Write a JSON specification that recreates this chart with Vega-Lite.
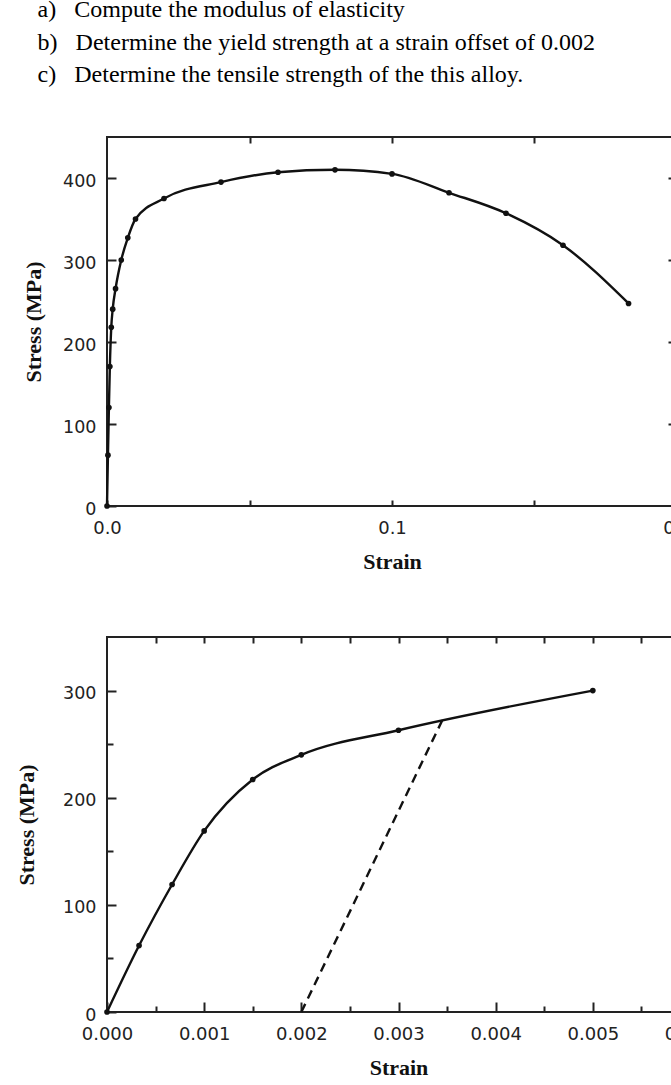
{
  "$schema": "https://vega.github.io/schema/vega-lite/v6.json",
  "background": "white",
  "padding": {"left": 14, "top": -2, "right": 0, "bottom": 0},
  "title": {
    "text": [
      "a)\u00a0\u00a0\u00a0Compute the modulus of elasticity",
      "b)\u00a0\u00a0\u00a0Determine the yield strength at a strain offset of 0.002",
      "c)\u00a0\u00a0\u00a0Determine the tensile strength of the this alloy."
    ],
    "anchor": "start",
    "frame": "bounds",
    "dx": 23,
    "offset": 48,
    "font": "Liberation Serif",
    "fontSize": 24,
    "fontWeight": "normal",
    "color": "#000",
    "lineHeight": 32.3,
    "baseline": "top"
  },
  "spacing": 62,
  "datasets": {
    "curve": [
      {"strain": 0, "stress": 0},
      {"strain": 0.00033, "stress": 62},
      {"strain": 0.00067, "stress": 120},
      {"strain": 0.001, "stress": 170},
      {"strain": 0.0015, "stress": 218},
      {"strain": 0.002, "stress": 240},
      {"strain": 0.003, "stress": 265},
      {"strain": 0.005, "stress": 300},
      {"strain": 0.0073, "stress": 327},
      {"strain": 0.01, "stress": 350},
      {"strain": 0.02, "stress": 375},
      {"strain": 0.04, "stress": 395},
      {"strain": 0.06, "stress": 407},
      {"strain": 0.08, "stress": 410},
      {"strain": 0.1, "stress": 405},
      {"strain": 0.12, "stress": 382},
      {"strain": 0.14, "stress": 357},
      {"strain": 0.16, "stress": 318},
      {"strain": 0.183, "stress": 247}
    ],
    "detail": [
      {"strain": 0, "stress": 0},
      {"strain": 0.00033, "stress": 62},
      {"strain": 0.00067, "stress": 119},
      {"strain": 0.001, "stress": 169},
      {"strain": 0.0015, "stress": 217},
      {"strain": 0.002, "stress": 240},
      {"strain": 0.003, "stress": 263},
      {"strain": 0.005, "stress": 300}
    ],
    "offsetLine": [
      {"strain": 0.002, "stress": 0},
      {"strain": 0.00346, "stress": 274}
    ]
  },
  "vconcat": [
    {
      "width": 570,
      "height": 369,
      "layer": [
        {
          "data": {"name": "curve"},
          "mark": {"type": "line", "color": "#111", "strokeWidth": 2.4, "interpolate": "monotone"},
          "encoding": {
            "x": {
              "field": "strain", "type": "quantitative",
              "scale": {"domain": [0, 0.2], "nice": false, "zero": false},
              "axis": {
                "orient": "bottom", "values": [0, 0.05, 0.1, 0.15, 0.2],
                "labelExpr": "round(datum.value*20) % 2 == 1 ? '' : format(datum.value, '.1f')",
                "offset": -6, "tickSize": 6, "labelPadding": 13,
                "title": "Strain", "titlePadding": 14
              }
            },
            "y": {
              "field": "stress", "type": "quantitative",
              "scale": {"domain": [0, 450], "nice": false, "zero": false},
              "axis": {
                "orient": "left", "values": [0, 100, 200, 300, 400],
                "offset": -9, "tickSize": 9, "labelPadding": 11, "labelOffset": 3,
                "labelFontSize": 17.5,
                "title": "Stress (MPa)", "titlePadding": 17
              }
            }
          }
        },
        {
          "data": {"name": "curve"},
          "mark": {"type": "point", "filled": true, "color": "#111", "size": 32, "opacity": 1},
          "encoding": {
            "x": {
              "field": "strain", "type": "quantitative",
              "scale": {"domain": [0, 0.2], "nice": false, "zero": false},
              "axis": {"orient": "top", "values": [0.05, 0.1, 0.15], "tickSize": -6, "labels": false, "title": null}
            },
            "y": {
              "field": "stress", "type": "quantitative",
              "scale": {"domain": [0, 450], "nice": false, "zero": false},
              "axis": {"orient": "right", "values": [100, 200, 300, 400], "tickSize": -9, "labels": false, "title": null}
            }
          }
        }
      ],
      "resolve": {"axis": {"x": "independent", "y": "independent"}}
    },
    {
      "width": 583,
      "height": 375,
      "layer": [
        {
          "data": {"name": "detail"},
          "mark": {"type": "line", "color": "#111", "strokeWidth": 2.4, "interpolate": "monotone"},
          "encoding": {
            "x": {
              "field": "strain", "type": "quantitative",
              "scale": {"domain": [0, 0.006], "nice": false, "zero": false},
              "axis": {
                "orient": "bottom", "values": [0, 0.001, 0.002, 0.003, 0.004, 0.005, 0.006],
                "format": ".3f", "offset": -10, "tickSize": 10, "labelPadding": 13,
                "title": "Strain", "titlePadding": 14
              }
            },
            "y": {
              "field": "stress", "type": "quantitative",
              "scale": {"domain": [0, 350], "nice": false, "zero": false},
              "axis": {
                "orient": "left", "values": [0, 100, 200, 300],
                "offset": -9, "tickSize": 9, "labelPadding": 11, "labelOffset": 3,
                "labelFontSize": 17.5,
                "title": "Stress (MPa)", "titlePadding": 24
              }
            }
          }
        },
        {
          "data": {"name": "detail"},
          "mark": {"type": "point", "filled": true, "color": "#111", "size": 32, "opacity": 1},
          "encoding": {
            "x": {
              "field": "strain", "type": "quantitative",
              "scale": {"domain": [0, 0.006], "nice": false, "zero": false},
              "axis": {"orient": "top", "values": [0.0005, 0.001, 0.0015, 0.002, 0.0025, 0.003, 0.0035, 0.004, 0.0045, 0.005, 0.0055], "tickSize": -6, "labels": false, "title": null}
            },
            "y": {
              "field": "stress", "type": "quantitative",
              "scale": {"domain": [0, 350], "nice": false, "zero": false},
              "axis": {"orient": "right", "values": [50, 100, 150, 200, 250, 300], "tickSize": -8, "labels": false, "title": null}
            }
          }
        },
        {
          "data": {"name": "offsetLine"},
          "mark": {"type": "line", "color": "#111", "strokeWidth": 2.4, "strokeDash": [9, 6]},
          "encoding": {
            "x": {
              "field": "strain", "type": "quantitative",
              "scale": {"domain": [0, 0.006], "nice": false, "zero": false},
              "axis": {"orient": "bottom", "values": [0.0005, 0.0015, 0.0025, 0.0035, 0.0045, 0.0055], "tickSize": -6, "labels": false, "title": null}
            },
            "y": {
              "field": "stress", "type": "quantitative",
              "scale": {"domain": [0, 350], "nice": false, "zero": false},
              "axis": {"orient": "left", "values": [50, 150, 250], "tickSize": -6, "labels": false, "title": null}
            }
          }
        }
      ],
      "resolve": {"axis": {"x": "independent", "y": "independent"}}
    }
  ],
  "config": {
    "view": {"stroke": "#222", "strokeWidth": 2},
    "axis": {
      "domain": false,
      "grid": false,
      "tickColor": "#222",
      "tickWidth": 2,
      "labelFont": "DejaVu Sans",
      "labelFontSize": 18,
      "labelColor": "#222",
      "labelFlush": false,
      "labelOverlap": false,
      "titleFont": "Liberation Serif",
      "titleFontSize": 22,
      "titleFontWeight": "bold",
      "titleColor": "#111"
    }
  }
}
